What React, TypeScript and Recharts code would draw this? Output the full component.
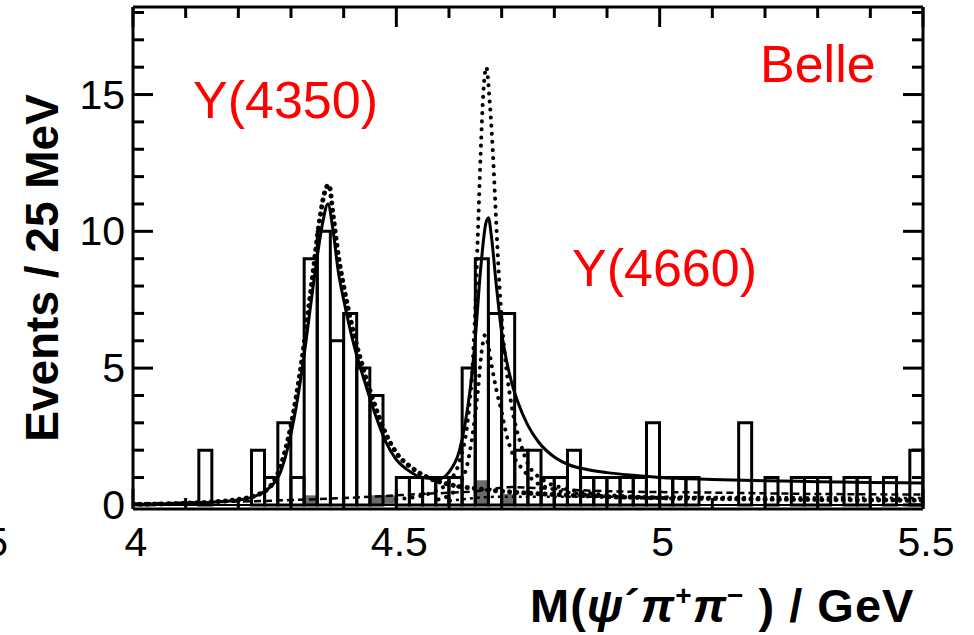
import React from 'react';
import { ComposedChart, Bar, Line, XAxis, YAxis } from 'recharts';

// 25 MeV bins from 4.0 to 5.5 GeV
const binLow = [
    4.000, 4.025, 4.050, 4.075, 4.100, 4.125, 4.150, 4.175, 4.200, 4.225,
    4.250, 4.275, 4.300, 4.325, 4.350, 4.375, 4.400, 4.425, 4.450, 4.475,
    4.500, 4.525, 4.550, 4.575, 4.600, 4.625, 4.650, 4.675, 4.700, 4.725,
    4.750, 4.775, 4.800, 4.825, 4.850, 4.875, 4.900, 4.925, 4.950, 4.975,
    5.000, 5.025, 5.050, 5.075, 5.100, 5.125, 5.150, 5.175, 5.200, 5.225,
    5.250, 5.275, 5.300, 5.325, 5.350, 5.375, 5.400, 5.425, 5.450, 5.475,
];
const events = [
    0, 0, 0, 0, 0, 2, 0, 0, 0, 2,
    1, 3, 1, 9, 10, 6, 7, 5, 4, 0,
    1, 1, 1, 1, 1, 5, 9, 7, 7, 2,
    2, 1, 1, 2, 1, 1, 1, 1, 1, 3,
    1, 1, 1, 0, 0, 0, 3, 0, 1, 0,
    1, 1, 1, 0, 1, 1, 0, 1, 0, 2,
];
// grey sideband histogram
const sideband = [
    0, 0, 0, 0, 0, 0, 0, 0, 0, 0,
    0, 0, 0, 0.35, 0, 0, 0, 0, 0.35, 0.35,
    0, 0, 0, 0, 0, 0, 0.9, 0, 0.4, 0,
    0, 0, 0, 0, 0, 0, 0, 0, 0, 0,
    0, 0, 0, 0, 0, 0, 0, 0, 0, 0,
    0, 0, 0, 0, 0, 0, 0, 0, 0, 0,
];

// total fit (solid)
const fitM = [4.0, 4.1, 4.15, 4.2, 4.23, 4.25, 4.27, 4.28, 4.29, 4.3, 4.31, 4.32, 4.33, 4.34, 4.35, 4.36, 4.37,
    4.38, 4.39, 4.4, 4.42, 4.44, 4.46, 4.48, 4.5, 4.52, 4.55, 4.58, 4.6, 4.62, 4.63, 4.64, 4.65, 4.66, 4.67, 4.675,
    4.68, 4.69, 4.7, 4.71, 4.72, 4.73, 4.75, 4.77, 4.8, 4.83, 4.86, 4.9, 4.95, 5.0, 5.1, 5.2, 5.3, 5.4, 5.5];
const fitV = [0.02, 0.06, 0.1, 0.18, 0.3, 0.5, 0.85, 1.2, 1.8, 2.6, 3.6, 4.8, 6.2, 7.7, 9.1, 10.3, 11.0,
    10.0, 8.5, 7.5, 5.8, 4.5, 3.3, 2.3, 1.65, 1.3, 1.0, 0.95, 1.2, 2.0, 2.9, 4.2, 6.1, 8.6, 10.3, 10.5,
    9.9, 8.0, 6.3, 5.2, 4.4, 3.8, 2.9, 2.3, 1.75, 1.45, 1.3, 1.18, 1.08, 1.0, 0.93, 0.88, 0.85, 0.82, 0.8];

// Y(4360) component (dotted)
const y4360M = [4.0, 4.1, 4.2, 4.25, 4.28, 4.3, 4.32, 4.34, 4.355, 4.365, 4.372, 4.38, 4.39, 4.4, 4.42, 4.44,
    4.46, 4.48, 4.5, 4.53, 4.56, 4.6, 4.65, 4.7, 4.8, 4.9, 5.0, 5.2, 5.5];
const y4360V = [0.02, 0.06, 0.2, 0.5, 1.4, 2.9, 5.2, 8.2, 10.5, 11.5, 11.7, 10.6, 9.1, 8.0, 6.2, 4.8,
    3.6, 2.6, 1.9, 1.35, 1.0, 0.75, 0.6, 0.5, 0.38, 0.3, 0.26, 0.21, 0.17];

// Y(4660) component, solution I (dotted, tall)
const y4660aM = [4.5, 4.55, 4.58, 4.6, 4.62, 4.635, 4.645, 4.65, 4.655, 4.66, 4.665, 4.671, 4.677, 4.683,
    4.688, 4.693, 4.7, 4.71, 4.72, 4.735, 4.75, 4.78, 4.82, 4.88, 4.95, 5.05];
const y4660aV = [0.2, 0.35, 0.55, 0.85, 1.6, 3.0, 5.2, 7.2, 10.0, 12.8, 15.0, 16.0, 14.8, 13.0,
    11.0, 9.0, 6.8, 4.8, 3.5, 2.3, 1.5, 0.9, 0.6, 0.4, 0.3, 0.22];

// Y(4660) component, solution II (dotted, low)
const y4660bM = [4.58, 4.6, 4.62, 4.635, 4.645, 4.655, 4.662, 4.668, 4.674, 4.68, 4.69, 4.7, 4.71, 4.72,
    4.74, 4.76, 4.8, 4.85, 4.9, 5.0];
const y4660bV = [0.2, 0.35, 0.75, 1.5, 2.6, 4.2, 5.6, 6.2, 5.9, 5.2, 4.2, 3.4, 2.5, 1.9,
    1.3, 0.9, 0.55, 0.4, 0.3, 0.25];

// background terms (dashed)
const bgM = [4.0, 4.2, 4.4, 4.55, 4.65, 4.72, 4.78, 4.9, 5.1, 5.3, 5.5];
const bgV = [0.05, 0.12, 0.25, 0.4, 0.5, 0.65, 0.6, 0.5, 0.45, 0.4, 0.38];
const bg2M = [4.6, 4.7, 4.9, 5.2, 5.5];
const bg2V = [0.15, 0.3, 0.3, 0.28, 0.25];

const baseM = [4.0, 5.5];
const baseV = [0, 0];

const xTicks = [4.0, 4.1, 4.2, 4.3, 4.4, 4.5, 4.6, 4.7, 4.8, 4.9, 5.0, 5.1, 5.2, 5.3, 5.4, 5.5];
const xMajor = [4.0, 4.5, 5.0, 5.5];
const xLabels = ['4', '4.5', '5', '5.5'];
const yTicks = [0, 1, 2, 3, 4, 5, 6, 7, 8, 9, 10, 11, 12, 13, 14, 15, 16, 17, 18];
const yMajor = [0, 5, 10, 15];

const bins = binLow.map((m, i) => ({ bin: m.toFixed(3), n: events[i], bg: sideband[i] }));
const pts = (ms: number[], vs: number[]) => ms.map((m, i) => ({ m, v: vs[i] }));

const FONT = '"Liberation Sans", Arial, sans-serif';
const RED = '#ff0000';

const BottomTick = (props: any) => {
    const { x, y, payload } = props;
    const idx = xMajor.indexOf(payload.value);
    const major = idx >= 0;
    return (
        <g>
            <line x1={x} x2={x} y1={y} y2={y - (major ? 20 : 11)} stroke="#000" strokeWidth={3} />
            {major && (
                <text x={x + 3} y={y + 47} textAnchor="middle" fontSize={41} fontFamily={FONT} fill="#000">
                    {xLabels[idx]}
                </text>
            )}
        </g>
    );
};

const TopTick = (props: any) => {
    const { x, y, payload } = props;
    const major = xMajor.includes(payload.value);
    return <line x1={x} x2={x} y1={y} y2={y + (major ? 20 : 11)} stroke="#000" strokeWidth={3} />;
};

const LeftTick = (props: any) => {
    const { x, y, payload } = props;
    const major = yMajor.includes(payload.value);
    return (
        <g>
            <line x1={x} x2={x + (major ? 20 : 11)} y1={y} y2={y} stroke="#000" strokeWidth={3} />
            {major && (
                <text x={x - 8} y={y + 14} textAnchor="end" fontSize={41} fontFamily={FONT} fill="#000">
                    {payload.value}
                </text>
            )}
        </g>
    );
};

const RightTick = (props: any) => {
    const { x, y, payload } = props;
    const major = yMajor.includes(payload.value);
    return <line x1={x} x2={x - (major ? 20 : 11)} y1={y} y2={y} stroke="#000" strokeWidth={3} />;
};

const frame = { stroke: '#000', strokeWidth: 3 };

export default function App() {
    return (
        <div style={{ position: 'absolute', left: 0, top: 0, width: 974, height: 635, background: '#fff', overflow: 'hidden' }}>
            <ComposedChart
                width={974}
                height={635}
                data={bins}
                margin={{ top: 6, right: 50, bottom: 125, left: 132 }}
                barCategoryGap={0}
                barGap={0}
            >
                <XAxis xAxisId="bins" dataKey="bin" type="category" height={0} hide />
                <XAxis xAxisId="bins2" dataKey="bin" type="category" height={0} hide />
                <XAxis xAxisId="m" dataKey="m" type="number" domain={[4, 5.5]} allowDataOverflow
                    ticks={xTicks} interval={0} height={1} tickSize={0} tickMargin={0}
                    axisLine={frame} tickLine={false} tick={<BottomTick />} />
                <XAxis xAxisId="top" orientation="top" dataKey="m" type="number" domain={[4, 5.5]} allowDataOverflow
                    ticks={xTicks} interval={0} height={1} tickSize={0} tickMargin={0}
                    axisLine={frame} tickLine={false} tick={<TopTick />} />
                <YAxis yAxisId="y" type="number" domain={[-0.15, 18.2]} allowDataOverflow
                    ticks={yTicks} interval={0} width={1} tickSize={0} tickMargin={0}
                    axisLine={frame} tickLine={false} tick={<LeftTick />} />
                <YAxis yAxisId="right" orientation="right" type="number" domain={[-0.15, 18.2]} allowDataOverflow
                    ticks={yTicks} interval={0} width={1} tickSize={0} tickMargin={0}
                    axisLine={frame} tickLine={false} tick={<RightTick />} />

                <Bar xAxisId="bins2" yAxisId="right" dataKey="bg" fill="#6b6b6b" isAnimationActive={false} />
                <Bar xAxisId="bins" yAxisId="y" dataKey="n" fill="none" stroke="#000" strokeWidth={3} isAnimationActive={false} />

                <Line xAxisId="top" yAxisId="right" data={pts(baseM, baseV)} dataKey="v" stroke="#000" strokeWidth={2}
                    dot={false} activeDot={false} isAnimationActive={false} />
                <Line xAxisId="m" yAxisId="y" data={pts(bgM, bgV)} dataKey="v" type="monotone" stroke="#000"
                    strokeWidth={2.5} strokeDasharray="7 4" dot={false} activeDot={false} isAnimationActive={false} />
                <Line xAxisId="m" yAxisId="y" data={pts(bg2M, bg2V)} dataKey="v" type="monotone" stroke="#000"
                    strokeWidth={2.5} strokeDasharray="3 4" dot={false} activeDot={false} isAnimationActive={false} />
                <Line xAxisId="m" yAxisId="y" data={pts(y4660bM, y4660bV)} dataKey="v" type="monotone" stroke="#000"
                    strokeWidth={4} strokeDasharray="0.1 8" strokeLinecap="round" dot={false} activeDot={false} isAnimationActive={false} />
                <Line xAxisId="m" yAxisId="y" data={pts(y4660aM, y4660aV)} dataKey="v" type="monotone" stroke="#000"
                    strokeWidth={4} strokeDasharray="0.1 8" strokeLinecap="round" dot={false} activeDot={false} isAnimationActive={false} />
                <Line xAxisId="m" yAxisId="y" data={pts(y4360M, y4360V)} dataKey="v" type="monotone" stroke="#000"
                    strokeWidth={5} strokeDasharray="0.1 7" strokeLinecap="round" dot={false} activeDot={false} isAnimationActive={false} />
                <Line xAxisId="m" yAxisId="y" data={pts(fitM, fitV)} dataKey="v" type="monotone" stroke="#000"
                    strokeWidth={3} dot={false} activeDot={false} isAnimationActive={false} />
            </ComposedChart>

            <svg width={974} height={635} style={{ position: 'absolute', left: 0, top: 0, pointerEvents: 'none' }}>
                <text x={193} y={118} fontSize={52} fontFamily={FONT} fill={RED}>Y(4350)</text>
                <text x={760} y={82} fontSize={52} fontFamily={FONT} fill={RED}>Belle</text>
                <text x={572} y={286} fontSize={52} fontFamily={FONT} fill={RED}>Y(4660)</text>
                <text x={8} y={556} textAnchor="end" fontSize={40} fontFamily={FONT} fill="#000">5</text>
                <text transform="translate(58, 268) rotate(-90)" textAnchor="middle" fontSize={46}
                    fontWeight="bold" fontFamily={FONT} fill="#000">Events / 25 MeV</text>
                <text x={530} y={622} fontSize={47} fontWeight="bold" letterSpacing={1} fontFamily={FONT} fill="#000">
                    M(<tspan fontStyle="italic">ψ</tspan>´<tspan fontStyle="italic">π</tspan>
                    <tspan fontSize={28} dy={-17}>+</tspan>
                    <tspan fontStyle="italic" dy={17}>π</tspan>
                    <tspan fontSize={28} dy={-17}>−</tspan>
                    <tspan dy={17}> ) / GeV</tspan>
                </text>
            </svg>
        </div>
    );
}
